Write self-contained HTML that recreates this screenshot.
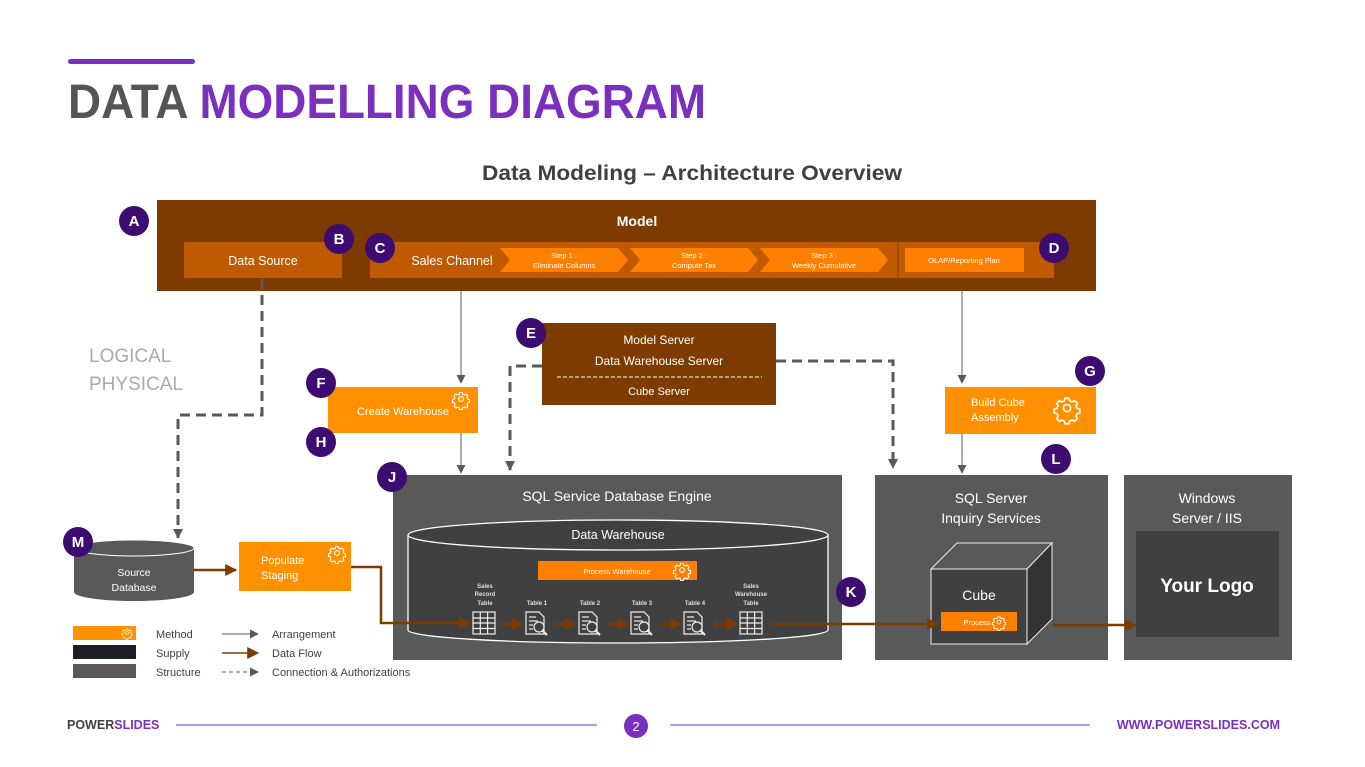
<!DOCTYPE html>
<html><head><meta charset="utf-8"><style>
html,body{margin:0;padding:0;background:#fff;}
svg{display:block;font-family:"Liberation Sans",sans-serif;}
</style></head><body>
<svg width="1365" height="767" viewBox="0 0 1365 767" xmlns="http://www.w3.org/2000/svg">
<defs>
<marker id="ag" viewBox="0 0 10 10" refX="9" refY="5" markerWidth="9" markerHeight="9" markerUnits="userSpaceOnUse" orient="auto"><path d="M0,0L10,5L0,10z" fill="#595959"/></marker>
<marker id="ad" viewBox="0 0 10 10" refX="9" refY="5" markerWidth="10" markerHeight="10" markerUnits="userSpaceOnUse" orient="auto"><path d="M0,0L10,5L0,10z" fill="#595959"/></marker>
<marker id="ab" viewBox="0 0 10 10" refX="9" refY="5" markerWidth="12" markerHeight="12" markerUnits="userSpaceOnUse" orient="auto"><path d="M0,0L10,5L0,10z" fill="#7E3B00"/></marker>
<g id="tbl" fill="none" stroke="#eee" stroke-width="1.2"><rect x="0" y="0" width="22" height="22"/><line x1="0" y1="6" x2="22" y2="6"/><line x1="0" y1="11" x2="22" y2="11"/><line x1="0" y1="16.5" x2="22" y2="16.5"/><line x1="7.3" y1="0" x2="7.3" y2="22"/><line x1="14.6" y1="0" x2="14.6" y2="22"/></g>
<g id="doc" fill="none" stroke="#eee" stroke-width="1.2"><path d="M0,0H13L18,5V22H0Z"/><line x1="3" y1="5" x2="10" y2="5"/><line x1="3" y1="9" x2="12" y2="9"/><line x1="3" y1="13" x2="7" y2="13"/><line x1="3" y1="17" x2="7" y2="17"/><circle cx="13" cy="15" r="5" fill="#404040"/><line x1="16.5" y1="18.5" x2="21" y2="23" stroke-width="2"/></g>
<g id="gear" fill="none" stroke="#fff" stroke-width="1.1"><circle cx="0" cy="0" r="2.4"/><path d="M-1.3,-6.5h2.6l.5,1.8 1.6,.7 1.7,-.9 1.8,1.8-.9,1.7.7,1.6 1.8,.5v2.6l-1.8,.5-.7,1.6.9,1.7-1.8,1.8-1.7-.9-1.6,.7-.5,1.8h-2.6l-.5-1.8-1.6-.7-1.7,.9-1.8-1.8.9-1.7-.7-1.6-1.8-.5v-2.6l1.8-.5.7-1.6-.9-1.7 1.8-1.8 1.7,.9 1.6-.7z"/></g>
</defs>

<rect x="68" y="59" width="127" height="5" rx="2.5" fill="#7B2FBE"/>
<text x="68" y="118" font-size="48" font-weight="bold" textLength="638" lengthAdjust="spacingAndGlyphs"><tspan fill="#555">DATA </tspan><tspan fill="#7B2FBE">MODELLING DIAGRAM</tspan></text>
<text x="692" y="180" font-size="21" font-weight="bold" fill="#404040" text-anchor="middle" textLength="420" lengthAdjust="spacingAndGlyphs">Data Modeling – Architecture Overview</text>

<rect x="157" y="200" width="939" height="91" fill="#7E3B00"/>
<text x="637" y="226" font-size="14" font-weight="bold" fill="#fff" text-anchor="middle">Model</text>
<rect x="184" y="242" width="158" height="36" fill="#C05A00"/>
<text x="263" y="265" font-size="12.5" fill="#fff" text-anchor="middle">Data Source</text>
<rect x="370" y="242" width="684" height="36" fill="#C05A00"/>
<line x1="898" y1="242" x2="898" y2="278" stroke="#7E3B00" stroke-width="1"/>
<text x="452" y="265" font-size="12.5" fill="#fff" text-anchor="middle">Sales Channel</text>
<g fill="#FF7F00">
<path d="M500,248H618L628,260L618,272H500L510,260Z"/>
<path d="M630,248H748L758,260L748,272H630L640,260Z"/>
<path d="M760,248H878L888,260L878,272H760L770,260Z"/>
</g>
<g font-size="7.5" fill="#fff" text-anchor="middle">
<text x="564" y="258">Step 1 :</text><text x="564" y="268">Eliminate Columns</text>
<text x="694" y="258">Step 2 :</text><text x="694" y="268">Compute Tax</text>
<text x="824" y="258">Step 3 :</text><text x="824" y="268">Weekly Cumulative</text>
</g>
<rect x="905" y="248" width="119" height="24" fill="#FF7F00"/>
<text x="964" y="263" font-size="7.5" fill="#fff" text-anchor="middle">OLAP/Reporting Plan</text>

<text x="89" y="362" font-size="19" fill="#aaa">LOGICAL</text>
<text x="89" y="390" font-size="19" fill="#aaa">PHYSICAL</text>

<g fill="none" stroke="#595959" stroke-width="3" stroke-dasharray="10 6">
<path d="M262,279V415H178V538" marker-end="url(#ad)"/>
<path d="M542,366H510V470" marker-end="url(#ad)"/>
<path d="M776,361H893V468" marker-end="url(#ad)"/>
</g>
<g fill="none" stroke="#595959" stroke-width="1">
<path d="M461,291V383" marker-end="url(#ag)"/>
<path d="M461,433V473" marker-end="url(#ag)"/>
<path d="M962,291V383" marker-end="url(#ag)"/>
<path d="M962,433V473" marker-end="url(#ag)"/>
</g>

<rect x="328" y="387" width="150" height="46" fill="#FF9100"/>
<text x="403" y="415" font-size="11" fill="#fff" text-anchor="middle">Create Warehouse</text>
<use href="#gear" x="461" y="399"/>

<rect x="542" y="323" width="234" height="82" fill="#7E3B00"/>
<text x="659" y="344" font-size="12" fill="#fff" text-anchor="middle">Model Server</text>
<text x="659" y="365" font-size="12" fill="#fff" text-anchor="middle">Data Warehouse Server</text>
<line x1="557" y1="377" x2="762" y2="377" stroke="#fff" stroke-width="1" stroke-dasharray="4 2"/>
<text x="659" y="395" font-size="11" fill="#fff" text-anchor="middle">Cube Server</text>

<rect x="945" y="387" width="151" height="47" fill="#FF9100"/>
<text x="971" y="406" font-size="11" fill="#fff">Build Cube</text>
<text x="971" y="421" font-size="11" fill="#fff">Assembly</text>
<use href="#gear" x="1067" y="408" transform="translate(-533.5 -204) scale(1.5)"/>

<rect x="393" y="475" width="449" height="185" fill="#595959"/>
<text x="617" y="501" font-size="14" fill="#fff" text-anchor="middle">SQL Service Database Engine</text>
<path d="M408,535V630A210,13 0 0 0 828,630V535" fill="#404040" stroke="#fff" stroke-width="1.3"/>
<ellipse cx="618" cy="535" rx="210" ry="15" fill="#404040" stroke="#fff" stroke-width="1.3"/>
<text x="618" y="539" font-size="12.5" fill="#fff" text-anchor="middle">Data Warehouse</text>
<rect x="538" y="561" width="159" height="19" fill="#FF7F00"/>
<text x="617" y="574" font-size="7.5" fill="#fff" text-anchor="middle">Process Warehouse</text>
<use href="#gear" x="682" y="570"/>
<g font-size="6" fill="#ddd" text-anchor="middle" font-weight="bold">
<text x="485" y="588">Sales</text><text x="485" y="596">Record</text><text x="485" y="605">Table</text>
<text x="537" y="605">Table 1</text><text x="590" y="605">Table 2</text><text x="642" y="605">Table 3</text><text x="695" y="605">Table 4</text>
<text x="751" y="588">Sales</text><text x="751" y="596">Warehouse</text><text x="751" y="605">Table</text>
</g>
<use href="#tbl" x="473" y="612"/>
<use href="#doc" x="526" y="612"/>
<use href="#doc" x="579" y="612"/>
<use href="#doc" x="631" y="612"/>
<use href="#doc" x="684" y="612"/>
<use href="#tbl" x="740" y="612"/>

<rect x="875" y="475" width="233" height="185" fill="#595959"/>
<text x="991" y="503" font-size="14" fill="#fff" text-anchor="middle">SQL Server</text>
<text x="991" y="523" font-size="14" fill="#fff" text-anchor="middle">Inquiry Services</text>
<path d="M931,569L957,543H1052L1027,569Z" fill="#595959" stroke="#eee" stroke-width="1"/>
<path d="M1027,569L1052,543V619L1027,644Z" fill="#333" stroke="#eee" stroke-width="1"/>
<rect x="931" y="569" width="96" height="75" fill="#404040" stroke="#eee" stroke-width="1"/>
<text x="979" y="600" font-size="14" fill="#fff" text-anchor="middle">Cube</text>
<rect x="941" y="612" width="76" height="19" fill="#FF7F00"/>
<text x="977" y="625" font-size="7.5" fill="#fff" text-anchor="middle">Process</text>
<use href="#gear" x="999" y="622" transform="translate(999 622) scale(0.8) translate(-999 -622)"/>

<rect x="1124" y="475" width="168" height="185" fill="#595959"/>
<text x="1207" y="503" font-size="14" fill="#fff" text-anchor="middle">Windows</text>
<text x="1207" y="523" font-size="14" fill="#fff" text-anchor="middle">Server / IIS</text>
<rect x="1136" y="531" width="143" height="106" fill="#404040"/>
<text x="1207" y="592" font-size="19" font-weight="bold" fill="#fff" text-anchor="middle">Your Logo</text>

<path d="M74,548V592A60,9 0 0 0 194,592V548" fill="#595959"/>
<ellipse cx="134" cy="548" rx="60" ry="8" fill="#595959" stroke="#fff" stroke-width="1"/>
<text x="134" y="576" font-size="10.5" fill="#fff" text-anchor="middle">Source</text>
<text x="134" y="591" font-size="10.5" fill="#fff" text-anchor="middle">Database</text>

<rect x="239" y="542" width="112" height="49" fill="#FF9100"/>
<text x="261" y="564" font-size="11" fill="#fff">Populate</text>
<text x="261" y="579" font-size="11" fill="#fff">Staging</text>
<use href="#gear" x="337" y="553"/>

<g stroke="#7E3B00" stroke-width="2.5" fill="none">
<path d="M194,570H236" marker-end="url(#ab)"/>
<path d="M351,567H381V623H470" marker-end="url(#ab)"/>
<path d="M502,624H523" marker-end="url(#ab)"/>
<path d="M555,624H576" marker-end="url(#ab)"/>
<path d="M608,624H628" marker-end="url(#ab)"/>
<path d="M660,624H681" marker-end="url(#ab)"/>
<path d="M714,624H737" marker-end="url(#ab)"/>
<path d="M771,624H938" marker-end="url(#ab)"/>
<path d="M1053,625H1136" marker-end="url(#ab)"/>
</g>

<rect x="73" y="626" width="63" height="14" fill="#FF9100"/>
<use href="#gear" x="127" y="633" transform="translate(127 633) scale(0.6) translate(-127 -633)"/>
<rect x="73" y="645" width="63" height="14" fill="#1a1f26"/>
<rect x="73" y="664" width="63" height="14" fill="#595959"/>
<g font-size="11" fill="#404040">
<text x="156" y="638">Method</text><text x="156" y="657">Supply</text><text x="156" y="676">Structure</text>
<text x="272" y="638">Arrangement</text><text x="272" y="657">Data Flow</text><text x="272" y="676">Connection &amp; Authorizations</text>
</g>
<path d="M222,634H258" stroke="#595959" stroke-width="1" marker-end="url(#ag)"/>
<path d="M222,653H258" stroke="#7E3B00" stroke-width="1.5" marker-end="url(#ab)"/>
<path d="M222,672H258" stroke="#595959" stroke-width="1" stroke-dasharray="4 3" marker-end="url(#ag)"/>

<g fill="#3D0C70">
<circle cx="134" cy="221" r="15"/><circle cx="339" cy="239" r="15"/><circle cx="380" cy="248" r="15"/><circle cx="1054" cy="248" r="15"/>
<circle cx="531" cy="333" r="15"/><circle cx="321" cy="383" r="15"/><circle cx="321" cy="442" r="15"/><circle cx="1090" cy="371" r="15"/>
<circle cx="392" cy="477" r="15"/><circle cx="1056" cy="459" r="15"/><circle cx="78" cy="542" r="15"/><circle cx="851" cy="592" r="15"/>
</g>
<g font-size="15" font-weight="bold" fill="#fff" text-anchor="middle">
<text x="134" y="226">A</text><text x="339" y="244">B</text><text x="380" y="253">C</text><text x="1054" y="253">D</text>
<text x="531" y="338">E</text><text x="321" y="388">F</text><text x="321" y="447">H</text><text x="1090" y="376">G</text>
<text x="392" y="482">J</text><text x="1056" y="464">L</text><text x="78" y="547">M</text><text x="851" y="597">K</text>
</g>

<text x="67" y="729" font-size="12.5" font-weight="bold"><tspan fill="#404040">POWER</tspan><tspan fill="#7B2FBE">SLIDES</tspan></text>
<line x1="176" y1="725" x2="597" y2="725" stroke="#7B2FBE" stroke-width="1"/>
<line x1="670" y1="725" x2="1090" y2="725" stroke="#7B2FBE" stroke-width="1"/>
<circle cx="636" cy="726" r="12" fill="#7B2FBE"/>
<text x="636" y="731" font-size="13" fill="#fff" text-anchor="middle">2</text>
<text x="1280" y="729" font-size="12.5" font-weight="bold" fill="#7B2FBE" text-anchor="end">WWW.POWERSLIDES.COM</text>
</svg>
</body></html>
